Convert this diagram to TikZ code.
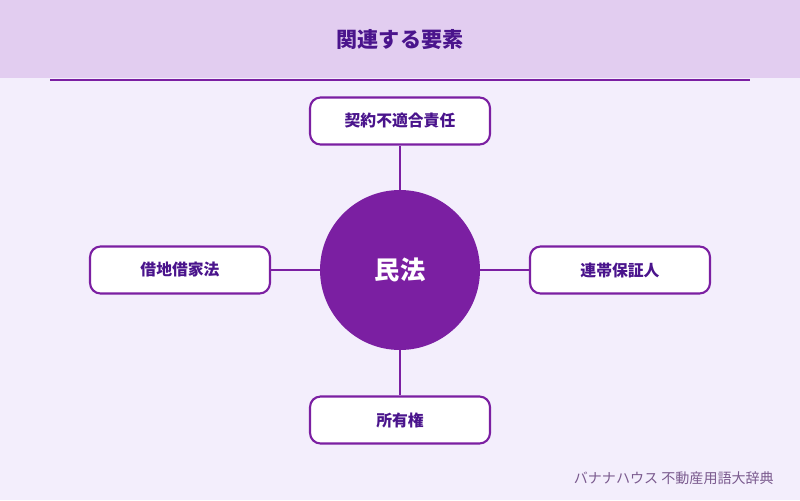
\documentclass[tikz,border=0pt]{standalone}
\usepackage{fontspec}
\setmainfont{Noto Sans CJK JP}
\usetikzlibrary{positioning}
\definecolor{bgpurple}{HTML}{F3EEFC}
\definecolor{headpurple}{HTML}{E2CDF0}
\definecolor{darkpurple}{HTML}{4A148C}
\definecolor{mainpurple}{HTML}{7B1FA2}
\definecolor{footgray}{HTML}{7A5A8E}
\tikzset{
  term/.style={draw=mainpurple, line width=1.2pt, fill=white, rounded corners=6pt,
    minimum width=3.6cm, minimum height=0.94cm, font=\bfseries\small, text=darkpurple},
  link/.style={draw=mainpurple, line width=1pt}
}
\begin{document}
\begin{tikzpicture}[x=0.02cm, y=-0.02cm]
\fill[bgpurple] (0,0) rectangle (800,500);
\fill[headpurple] (0,0) rectangle (800,78);
\draw[mainpurple, line width=1.2pt] (50,80) -- (750,80);
\node[font=\bfseries\large, text=darkpurple] (title) at (400,40) {関連する要素};
\node[circle, fill=mainpurple, minimum size=3.2cm, text=white, font=\bfseries\Large] (center) at (400,270) {民法};
\node[term] (top) at (400,121) {契約不適合責任};
\node[term] (left) at (180,270) {借地借家法};
\node[term] (right) at (620,270) {連帯保証人};
\node[term] (bottom) at (400,420) {所有権};
\draw[link] (center) -- (top);
\draw[link] (center) -- (left);
\draw[link] (center) -- (right);
\draw[link] (center) -- (bottom);
\node[font=\footnotesize, text=footgray, anchor=east] (credit) at (780,478) {バナナハウス 不動産用語大辞典};
\end{tikzpicture}
\end{document}
